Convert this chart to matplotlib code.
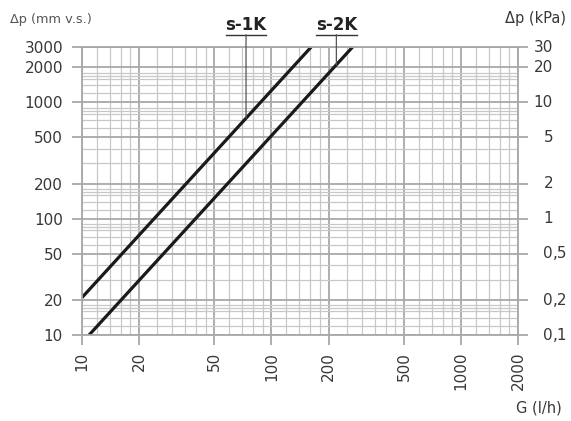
import numpy as np
import matplotlib
matplotlib.use('Agg')
import matplotlib.pyplot as plt
from matplotlib import transforms

# curve end points (G in l/h, dp in mm v.s.)
g_s1k = [10, 162]
dp_s1k = [21, 3000]
g_s2k = [10.9, 268]
dp_s2k = [10, 3000]

curve_names = ['s-1K', 's-2K']
leader_g = [73.4, 220]

x_major = [10, 20, 50, 100, 200, 500, 1000, 2000]
x_minor = [12, 14, 16, 18, 25, 30, 35, 40, 45, 60, 70, 80, 90,
           120, 140, 160, 180, 250, 300, 350, 400, 450,
           600, 700, 800, 900, 1200, 1400, 1600, 1800]
y_major = [10, 20, 50, 100, 200, 500, 1000, 2000, 3000]
y_minor = [12, 14, 16, 17, 18, 30, 40, 60, 70, 80, 85, 90,
           120, 140, 160, 170, 180, 300, 400, 600, 700, 800, 850, 900,
           1200, 1400, 1600, 1700, 1800]
kpa_labels = ['0,1', '0,2', '0,5', '1', '2', '5', '10', '20', '30']

txt = '#383838'
major_c = '#a8a8a8'
minor_c = '#c8c8c8'

plt.rcParams['font.family'] = ['DejaVu Sans']

fig = plt.figure(figsize=(5.71, 4.21), dpi=100)
ax = fig.add_axes([82 / 571, 1 - 335 / 421, 436 / 571, 288 / 421])
ax.set_xscale('log')
ax.set_yscale('log')
ax.set_xlim(10, 2000)
ax.set_ylim(10, 3000)

ax.set_xticks(x_major)
ax.set_xticklabels([str(v) for v in x_major], rotation=90)
ax.set_xticks(x_minor, minor=True)
ax.set_yticks(y_major)
ax.set_yticklabels([str(v) for v in y_major])
ax.set_yticks(y_minor, minor=True)
ax.xaxis.set_minor_formatter(plt.NullFormatter())
ax.yaxis.set_minor_formatter(plt.NullFormatter())

ax.grid(which='major', color=major_c, lw=1.3)
ax.grid(which='minor', color=minor_c, lw=0.9)
ax.set_axisbelow(True)
for s in ax.spines.values():
    s.set_color(major_c)
    s.set_linewidth(1.3)

ax.tick_params(which='major', direction='out', length=7.2, width=1.3,
               color=major_c, labelcolor=txt, labelsize=11)
ax.tick_params(axis='y', which='major', right=True, pad=6.5)
ax.tick_params(axis='x', which='major', pad=5)
ax.tick_params(which='minor', length=0)

ax.plot(g_s1k, dp_s1k, color='#1a1a1a', lw=2.3, solid_capstyle='butt')
ax.plot(g_s2k, dp_s2k, color='#1a1a1a', lw=2.3, solid_capstyle='butt')

# right hand kPa scale, aligned on the decimal comma
rt = transforms.blended_transform_factory(ax.transAxes, ax.transData)
for v, lab in zip(y_major, kpa_labels):
    whole, _, frac = lab.partition(',')
    ax.text(1.0803, v, whole, transform=rt, ha='right', va='center',
            fontsize=11, color=txt)
    if frac:
        ax.text(1.0803, v, ',' + frac, transform=rt, ha='left',
                va='center', fontsize=11, color=txt)

# curve labels with leader lines
lt = transforms.blended_transform_factory(ax.transData, ax.transAxes)
for name, g, gx, dy in zip(curve_names, leader_g, [g_s1k, g_s2k],
                           [dp_s1k, dp_s2k]):
    dp_at = 10 ** np.interp(np.log10(g), np.log10(gx), np.log10(dy))
    ax.annotate('', xy=(g, dp_at), xycoords='data', xytext=(g, 1.043),
                textcoords=lt,
                arrowprops=dict(arrowstyle='-', color='#555555', lw=0.9,
                                shrinkA=0, shrinkB=0))
    ax.plot([g / 10 ** 0.108, g * 10 ** 0.108], [1.043, 1.043],
            transform=lt, color='#333333', lw=1.0, clip_on=False)
    ax.text(g, 1.078, name, transform=lt, ha='center', va='center',
            fontsize=12, fontweight='bold', color='#222222')

fig.text(10 / 571, 1 - 20 / 421, '\u0394p (mm v.s.)', fontsize=9.3,
         color='#555555', ha='left', va='center')
fig.text(566 / 571, 1 - 19 / 421, '\u0394p (kPa)', fontsize=10.5,
         color=txt, ha='right', va='center')
fig.text(562 / 571, 1 - 408 / 421, 'G (l/h)', fontsize=10.5,
         color=txt, ha='right', va='center')

fig.savefig('out.png', dpi=100)
